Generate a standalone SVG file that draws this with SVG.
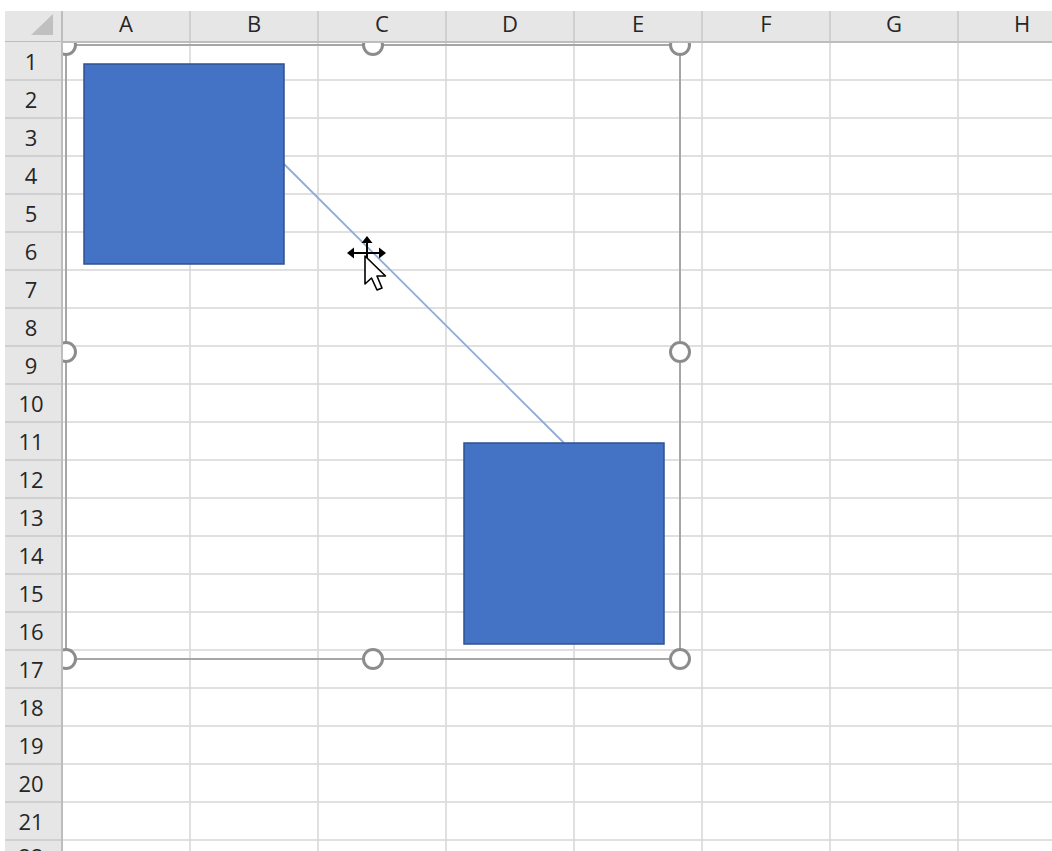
<svg xmlns="http://www.w3.org/2000/svg" width="1052" height="851" viewBox="0 0 1052 851">
<defs>
<style>
.grid line{stroke:#d6d6d6;stroke-width:1.5}
.hdr{fill:#e6e6e6}
.hsep line{stroke:#c9c9c9;stroke-width:1.5}
.lbl{font-family:"Open Sans","DejaVu Sans",sans-serif;font-size:22px;fill:#262626;text-anchor:middle}
.shape{fill:#4472c4;stroke:#2f528f;stroke-width:1.5}
.handle{fill:#ffffff;stroke:#8c8c8c;stroke-width:3}
</style>
</defs>
<rect width="1052" height="851" fill="#ffffff"/>
<g id="grid" class="grid">
<line x1="190" y1="42" x2="190" y2="851"/><line x1="318" y1="42" x2="318" y2="851"/><line x1="446" y1="42" x2="446" y2="851"/><line x1="574" y1="42" x2="574" y2="851"/><line x1="702" y1="42" x2="702" y2="851"/><line x1="830" y1="42" x2="830" y2="851"/><line x1="958" y1="42" x2="958" y2="851"/>
<line x1="62" y1="80" x2="1052" y2="80"/><line x1="62" y1="118" x2="1052" y2="118"/><line x1="62" y1="156" x2="1052" y2="156"/><line x1="62" y1="194" x2="1052" y2="194"/><line x1="62" y1="232" x2="1052" y2="232"/><line x1="62" y1="270" x2="1052" y2="270"/><line x1="62" y1="308" x2="1052" y2="308"/><line x1="62" y1="346" x2="1052" y2="346"/><line x1="62" y1="384" x2="1052" y2="384"/><line x1="62" y1="422" x2="1052" y2="422"/><line x1="62" y1="460" x2="1052" y2="460"/><line x1="62" y1="498" x2="1052" y2="498"/><line x1="62" y1="536" x2="1052" y2="536"/><line x1="62" y1="574" x2="1052" y2="574"/><line x1="62" y1="612" x2="1052" y2="612"/><line x1="62" y1="650" x2="1052" y2="650"/><line x1="62" y1="688" x2="1052" y2="688"/><line x1="62" y1="726" x2="1052" y2="726"/><line x1="62" y1="764" x2="1052" y2="764"/><line x1="62" y1="802" x2="1052" y2="802"/><line x1="62" y1="840" x2="1052" y2="840"/>
</g>
<g id="connectors">
<line x1="284" y1="164" x2="564" y2="443" stroke="#8faadc" stroke-width="1.8"/>
</g>
<g id="shape1"><rect class="shape" x="84" y="64" width="200" height="200"/></g>
<g id="shape2"><rect class="shape" x="464" y="443" width="200" height="201"/></g>
<g id="selection">
<rect x="66" y="45" width="614" height="614" fill="none" stroke="#a6a6a6" stroke-width="2"/>
<circle class="handle" cx="66" cy="45" r="9.5"/><circle class="handle" cx="373" cy="45" r="9.5"/><circle class="handle" cx="680" cy="45" r="9.5"/>
<circle class="handle" cx="66" cy="352" r="9.5"/><circle class="handle" cx="680" cy="352" r="9.5"/>
<circle class="handle" cx="66" cy="659" r="9.5"/><circle class="handle" cx="373" cy="659" r="9.5"/><circle class="handle" cx="680" cy="659" r="9.5"/>
</g>
<g id="col-header">
<rect class="hdr" x="5" y="11" width="1047" height="31"/>
<g class="hsep"><line x1="190" y1="11" x2="190" y2="42"/><line x1="318" y1="11" x2="318" y2="42"/><line x1="446" y1="11" x2="446" y2="42"/><line x1="574" y1="11" x2="574" y2="42"/><line x1="702" y1="11" x2="702" y2="42"/><line x1="830" y1="11" x2="830" y2="42"/><line x1="958" y1="11" x2="958" y2="42"/></g>
<line x1="5" y1="42" x2="1052" y2="42" stroke="#bdbdbd" stroke-width="2"/>
<text class="lbl" x="126" y="32">A</text><text class="lbl" x="254" y="32">B</text><text class="lbl" x="382" y="32">C</text><text class="lbl" x="510" y="32">D</text><text class="lbl" x="638" y="32">E</text><text class="lbl" x="766" y="32">F</text><text class="lbl" x="894" y="32">G</text><text class="lbl" x="1022" y="32">H</text>
</g>
<g id="row-header">
<rect class="hdr" x="5" y="42" width="57" height="809"/>
<g class="hsep"><line x1="5" y1="80" x2="62" y2="80"/><line x1="5" y1="118" x2="62" y2="118"/><line x1="5" y1="156" x2="62" y2="156"/><line x1="5" y1="194" x2="62" y2="194"/><line x1="5" y1="232" x2="62" y2="232"/><line x1="5" y1="270" x2="62" y2="270"/><line x1="5" y1="308" x2="62" y2="308"/><line x1="5" y1="346" x2="62" y2="346"/><line x1="5" y1="384" x2="62" y2="384"/><line x1="5" y1="422" x2="62" y2="422"/><line x1="5" y1="460" x2="62" y2="460"/><line x1="5" y1="498" x2="62" y2="498"/><line x1="5" y1="536" x2="62" y2="536"/><line x1="5" y1="574" x2="62" y2="574"/><line x1="5" y1="612" x2="62" y2="612"/><line x1="5" y1="650" x2="62" y2="650"/><line x1="5" y1="688" x2="62" y2="688"/><line x1="5" y1="726" x2="62" y2="726"/><line x1="5" y1="764" x2="62" y2="764"/><line x1="5" y1="802" x2="62" y2="802"/><line x1="5" y1="840" x2="62" y2="840"/></g>
<line x1="62" y1="11" x2="62" y2="851" stroke="#bdbdbd" stroke-width="2"/>
<polygon points="53,14 53,35 31,35" fill="#c0c0c0"/>
<text class="lbl" x="31" y="70">1</text><text class="lbl" x="31" y="108">2</text><text class="lbl" x="31" y="146">3</text><text class="lbl" x="31" y="184">4</text><text class="lbl" x="31" y="222">5</text><text class="lbl" x="31" y="260">6</text><text class="lbl" x="31" y="298">7</text><text class="lbl" x="31" y="336">8</text><text class="lbl" x="31" y="374">9</text><text class="lbl" x="31" y="412">10</text><text class="lbl" x="31" y="450">11</text><text class="lbl" x="31" y="488">12</text><text class="lbl" x="31" y="526">13</text><text class="lbl" x="31" y="564">14</text><text class="lbl" x="31" y="602">15</text><text class="lbl" x="31" y="640">16</text><text class="lbl" x="31" y="678">17</text><text class="lbl" x="31" y="716">18</text><text class="lbl" x="31" y="754">19</text><text class="lbl" x="31" y="792">20</text><text class="lbl" x="31" y="830">21</text><text class="lbl" x="31" y="865">22</text>
</g>
<g id="cursor">
<line x1="367" y1="241" x2="367" y2="262" stroke="#000" stroke-width="2"/>
<line x1="352" y1="253" x2="381" y2="253" stroke="#000" stroke-width="2"/>
<polygon points="367,236 361.5,243 372.5,243" fill="#000"/>
<polygon points="347,253 354,247.5 354,258.5" fill="#000"/>
<polygon points="386,253 379,247.5 379,258.5" fill="#000"/>
<polygon points="365,256 365,284 371.5,278 377,290 382,288 377,276 385.5,276" fill="#fff" stroke="#000" stroke-width="1.6" stroke-linejoin="round"/>
</g>
</svg>
